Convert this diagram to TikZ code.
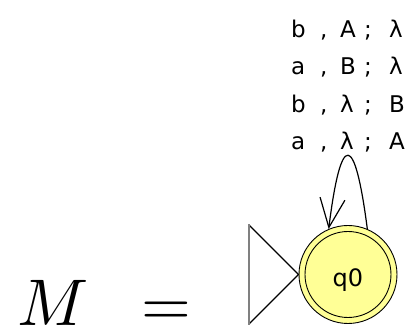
\documentclass[tikz,border=0pt]{standalone}
\usepackage{graphicx}
\usepackage{fontspec}
\newfontfamily\lblfont{DejaVu Sans}
\usetikzlibrary{arrows.meta,calc}
\definecolor{stateyellow}{RGB}{255,255,150}
\newcommand\trlbl[3]{\makebox[29pt][l]{#1}\makebox[20pt][l]{,}\makebox[24pt][l]{#2}\makebox[25pt][l]{;}#3}
\begin{document}
\begin{tikzpicture}[x=1pt,y=1pt,
  state/.style={circle, draw=black, line width=0.9pt, fill=stateyellow, minimum size=98pt, inner sep=0pt, text height=25pt, text depth=0pt, font=\lblfont\fontsize{24}{24}\selectfont},
  trans/.style={anchor=base west, inner sep=0pt, font=\lblfont\fontsize{23}{23}\selectfont},
  edge/.style={line width=1.2pt, -{Straight Barb[length=29pt,width=25pt,line width=1.2pt]}},
  mathbig/.style={inner sep=0pt, font=\fontsize{10}{12}\selectfont}]
\useasboundingbox (0,0) rectangle (408,326);
\node[state] (q) at (348,51.5) {q0};
\draw[line width=0.9pt] (q.center) circle (43);
\coordinate (tt) at ($(q.west)+(-50,50)$);
\coordinate (tb) at ($(q.west)+(-50,-50)$);
\draw[line width=1.2pt] (tt) -- (q.west) -- (tb);
\draw[black!50, line width=2pt] (tt) -- (tb);
\draw[edge] (q.67) .. controls (354.7,194.7) and (341,195.3) .. (q.113);
\node[trans] (l1) at (291,288) {\trlbl{b}{A}{λ}};
\node[trans] (l2) at (291,251) {\trlbl{a}{B}{λ}};
\node[trans] (l3) at (291,213) {\trlbl{b}{λ}{B}};
\node[trans] (l4) at (291,176) {\trlbl{a}{λ}{A}};
\node[mathbig, anchor=base west] (m) at (17,0.5) {\scalebox{6.6}{$M$}};
\node[mathbig, anchor=base] (eq) at (166,0.5) {\scalebox{6.4}{$=$}};
\end{tikzpicture}
\end{document}
